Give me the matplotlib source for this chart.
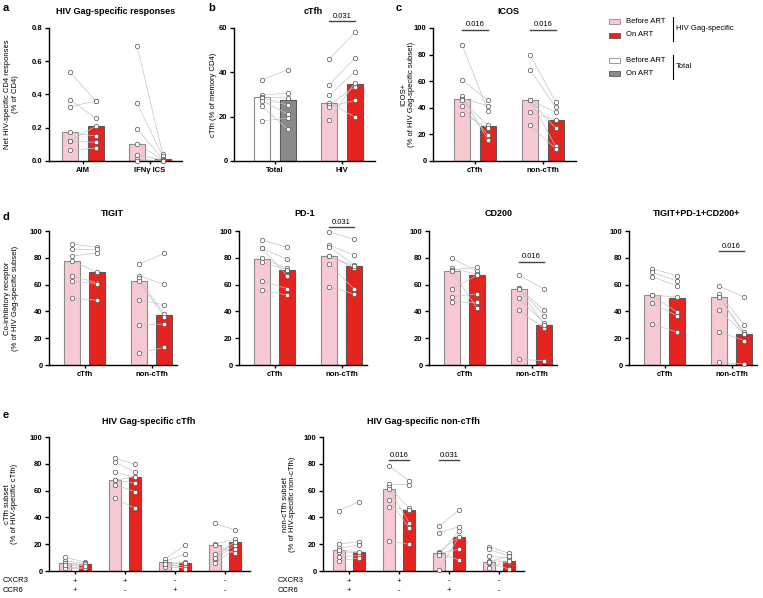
import numpy as np
import matplotlib
matplotlib.use("Agg")
import matplotlib.pyplot as plt
from matplotlib.patches import Rectangle

plt.rcParams["font.family"] = ["Liberation Sans", "DejaVu Sans"]

W, H = 763, 598
PINK = "#f7cad3"
RED = "#e5241f"
GREY = "#8a8a8a"

# ---- data ----
# a: HIV Gag-specific responses (% of CD4)
a_groups = ["AIM", "IFNγ ICS"]
a_before = [[0.533, 0.369, 0.327, 0.172, 0.122, 0.120, 0.064],
            [0.690, 0.347, 0.192, 0.104, 0.038, 0.012, 0.002]]
a_after = [[0.361, 0.257, 0.361, 0.150, 0.209, 0.112, 0.078],
           [0.044, 0.030, 0.012, 0.008, 0.005, 0.000, 0.000]]
a_bar_before = [0.172, 0.104]
a_bar_after = [0.209, 0.010]

# b: cTfh (% of memory CD4)
b_groups = ["Total", "HIV"]
b_before = [[36.6, 29.7, 28.8, 28.5, 27.2, 24.6, 18.1],
            [46.0, 34.5, 29.7, 26.1, 25.2, 24.5, 18.4]]
b_after = [[41.2, 30.6, 28.4, 25.2, 21.2, 14.3, 19.3],
           [58.0, 46.4, 40.3, 19.9, 33.6, 27.3, 35.4]]
b_bar_before = [28.7, 26.0]
b_bar_after = [27.6, 34.9]

# c: ICOS+
c_groups = ["cTfh", "non-cTfh"]
c_before = [[87.5, 61.0, 48.6, 46.9, 45.6, 41.0, 35.6],
            [80.0, 68.7, 46.1, 46.1, 46.1, 36.6, 26.8]]
c_after = [[37.6, 45.6, 16.0, 41.6, 26.8, 19.8, 24.8],
           [44.4, 40.4, 36.6, 11.0, 24.8, 31.1, 9.3]]
c_bar_before = [46.6, 46.1]
c_bar_after = [26.0, 31.0]

# d: co-inhibitory receptors
d_titles = ["TIGIT", "PD-1", "CD200", "TIGIT+PD-1+CD200+"]
d_before = [
    [[90.3, 86.3, 81.3, 77.6, 66.7, 62.9, 50.0], [75.1, 66.7, 64.7, 62.7, 48.3, 29.9, 8.7]],
    [[93.3, 87.0, 87.0, 79.6, 76.6, 62.9, 56.0], [99.3, 89.6, 88.3, 81.3, 81.3, 75.4, 58.5]],
    [[79.6, 72.1, 70.9, 70.1, 56.5, 51.0, 47.3], [67.2, 57.2, 57.2, 49.8, 40.8, 4.2, 57.0]],
    [[71.9, 69.2, 65.9, 52.2, 52.2, 46.0, 30.8], [59.0, 53.2, 51.0, 50.7, 41.3, 24.9, 2.0]],
]
d_after = [
    [[87.8, 86.3, 83.6, 69.2, 61.2, 60.7, 48.3], [83.3, 60.2, 38.0, 36.0, 45.0, 30.6, 13.2]],
    [[87.8, 78.9, 66.7, 72.1, 71.1, 57.0, 52.2], [93.8, 82.0, 74.6, 72.6, 74.1, 56.5, 53.0]],
    [[70.1, 67.7, 72.9, 42.3, 67.2, 53.2, 47.3], [56.5, 40.8, 36.8, 31.1, 27.4, 3.2, 30.1]],
    [[66.7, 62.7, 59.0, 50.7, 39.3, 36.8, 24.4], [50.7, 29.9, 24.4, 22.9, 22.9, 18.2, 0.7]],
]
d_bar_before = [[77.4, 62.7], [79.1, 81.3], [70.1, 57.0], [52.2, 50.7]]
d_bar_after = [[69.2, 37.0], [71.1, 74.1], [67.2, 30.1], [50.2, 22.9]]
d_sig = [None, "0.031", "0.016", "0.016"]
d_sig_y = [None, 102.7, 77.0, 85.0]

# e: CXCR3/CCR6 subsets
e_cxcr3 = ["+", "+", "-", "-"]
e_ccr6 = ["+", "-", "+", "-"]
e_titles = ["HIV Gag-specific cTfh", "HIV Gag-specific non-cTfh"]
e_ylabels = ["cTfh subset\n(% of HIV-specific cTfh)",
             "non-cTfh subset\n(% of HIV-specific non-cTfh)"]
e_before = [
    [[10.2, 7.7, 5.7, 5.7, 3.2, 2.0, 4.5], [84.3, 81.1, 73.9, 67.9, 64.2, 54.2, 67.7],
     [8.7, 7.0, 5.7, 4.5, 3.2, 6.7, 5.0], [35.6, 20.1, 12.4, 8.7, 6.0, 19.2, 10.0]],
    [[45.0, 20.1, 16.9, 14.4, 10.7, 7.5, 15.7], [78.4, 64.9, 62.9, 60.9, 53.0, 48.0, 22.1],
     [33.6, 28.6, 14.4, 13.2, 13.2, 0.7, 12.0], [18.2, 16.2, 11.2, 7.7, 5.7, 2.5, 7.0]],
]
e_after = [
    [[6.7, 5.7, 4.5, 5.0, 3.2, 2.0, 4.0], [79.6, 73.9, 69.9, 65.7, 59.2, 46.8, 70.4],
     [19.4, 12.7, 6.5, 4.5, 3.2, 1.5, 6.2], [30.6, 23.9, 21.6, 19.7, 16.2, 13.2, 21.9]],
    [[51.7, 21.9, 19.4, 13.7, 11.4, 9.7, 14.4], [67.4, 64.2, 46.8, 36.1, 32.3, 45.3, 20.1],
     [45.5, 33.1, 25.6, 16.2, 8.2, 25.6, 30.0], [13.2, 11.2, 9.5, 7.0, 1.5, 7.2, 11.0]],
]
e_bar_before = [[5.7, 67.7, 6.7, 19.2], [15.7, 60.9, 13.2, 7.0]]
e_bar_after = [[5.0, 70.4, 6.2, 21.9], [14.4, 45.3, 25.6, 7.2]]


def px_axes(fig, left, top, right, bottom):
    return fig.add_axes([left / W, 1 - bottom / H, (right - left) / W, (bottom - top) / H])


def ftext(fig, x, y, s, **kw):
    fig.text(x / W, 1 - y / H, s, **kw)


def style(ax, ymax, ystep, fmt="{:.0f}"):
    for s in ("top", "right"):
        ax.spines[s].set_visible(False)
    for s in ("left", "bottom"):
        ax.spines[s].set_linewidth(1.0)
    ax.set_ylim(0, ymax)
    ticks = np.arange(0, ymax + ystep / 2, ystep)
    ax.set_yticks(ticks)
    ax.set_yticklabels([fmt.format(t) for t in ticks], fontweight="bold", fontsize=5.5)
    ax.tick_params(axis="y", length=3, width=1, pad=1.5)
    ax.tick_params(axis="x", length=2, width=1, pad=2.5)


def paired(ax, x, before, after, bar_b, bar_a, off=0.19, width=0.24,
           col_b=PINK, col_a=RED, ec_b="#8c8c8c", ec_a="#5a5a5a"):
    ax.bar(x - off, bar_b, width, color=col_b, edgecolor=ec_b, linewidth=0.8, zorder=1)
    ax.bar(x + off, bar_a, width, color=col_a, edgecolor=ec_a, linewidth=0.8, zorder=1)
    for b, a in zip(before, after):
        ax.plot([x - off, x + off], [b, a], color="#c4c4c4", lw=0.5, zorder=2)
    kw = dict(ls="none", marker="o", ms=3.2, mfc="white", mec="#555555", mew=0.5,
              zorder=3, clip_on=False)
    ax.plot([x - off] * len(before), before, **kw)
    ax.plot([x + off] * len(after), after, **kw)


def sig(ax, x0, x1, y, label):
    ax.plot([x0, x1], [y, y], color="#444444", lw=1.0, clip_on=False)
    ax.annotate(label, ((x0 + x1) / 2, y), xytext=(0, 1), textcoords="offset points",
                ha="center", va="bottom", fontsize=5.5, annotation_clip=False)


fig = plt.figure(figsize=(W / 100, H / 100), dpi=100)

# panel letters
for lab, x, y in [("a", 3, 8), ("b", 208, 8), ("c", 396, 8), ("d", 3, 217), ("e", 3, 415)]:
    ftext(fig, x, y, lab, fontsize=8, fontweight="bold", va="center", ha="left")

# ---- a ----
ax = px_axes(fig, 49, 28, 182, 161)
for i in range(2):
    paired(ax, i, a_before[i], a_after[i], a_bar_before[i], a_bar_after[i])
style(ax, 0.8, 0.2, "{:.1f}")
ax.set_xlim(-0.51, 1.48)
ax.set_xticks(range(2))
ax.set_xticklabels(a_groups, fontweight="bold", fontsize=5.5)
ax.set_ylabel("Net HIV-specific CD4 responses\n(% of CD4)", fontsize=5.5, linespacing=1.1)
ax.yaxis.set_label_coords(-0.226, 0.5)
ftext(fig, 116, 11, "HIV Gag-specific responses", fontsize=6.5, fontweight="bold",
      ha="center", va="center")

# ---- b ----
ax = px_axes(fig, 234, 28, 375, 161)
paired(ax, 0, b_before[0], b_after[0], b_bar_before[0], b_bar_after[0],
       col_b="white", col_a=GREY, ec_b="#8c8c8c", ec_a="#5a5a5a")
paired(ax, 1, b_before[1], b_after[1], b_bar_before[1], b_bar_after[1])
style(ax, 60, 20)
ax.set_xlim(-0.61, 1.49)
ax.set_xticks(range(2))
ax.set_xticklabels(b_groups, fontweight="bold", fontsize=5.5)
ax.set_ylabel("cTfh (% of memory CD4)", fontsize=5.5)
ax.yaxis.set_label_coords(-0.12, 0.5)
sig(ax, 1 - 0.19, 1 + 0.19, 63.2, "0.031")
ftext(fig, 313, 11, "cTfh", fontsize=6.5, fontweight="bold", ha="center", va="center")

# ---- c ----
ax = px_axes(fig, 433, 28, 576, 161)
for i in range(2):
    paired(ax, i, c_before[i], c_after[i], c_bar_before[i], c_bar_after[i])
    sig(ax, i - 0.19, i + 0.19, 98.7, "0.016")
style(ax, 100, 20)
ax.set_xlim(-0.62, 1.49)
ax.set_xticks(range(2))
ax.set_xticklabels(c_groups, fontweight="bold", fontsize=5.5)
ax.set_ylabel("ICOS+\n(% of HIV Gag-specific subset)", fontsize=5.5, linespacing=1.1)
ax.yaxis.set_label_coords(-0.126, 0.5)
ftext(fig, 508, 11, "ICOS", fontsize=6.5, fontweight="bold", ha="center", va="center")

# legend
leg_rows = [(21.5, PINK, "#8c8c8c", "Before ART"), (35, RED, "#5a5a5a", "On ART"),
            (60, "white", "#8c8c8c", "Before ART"), (73.5, GREY, "#5a5a5a", "On ART")]
for y, fc, ec, txt in leg_rows:
    fig.patches.append(Rectangle((609 / W, 1 - (y + 2.5) / H), 11 / W, 5 / H,
                                 facecolor=fc, edgecolor=ec, lw=0.6,
                                 transform=fig.transFigure, figure=fig))
    ftext(fig, 626, y, txt, fontsize=5.5, ha="left", va="center")
for y0, y1, txt in [(17, 41, "HIV Gag-specific"), (55, 79, "Total")]:
    fig.add_artist(plt.Line2D([673 / W, 673 / W], [1 - y0 / H, 1 - y1 / H], color="black",
                              lw=0.8, transform=fig.transFigure))
    ftext(fig, 676, (y0 + y1) / 2, txt, fontsize=5.5, ha="left", va="center")

# ---- d ----
d_lefts = [49, 239, 429, 629]
d_title_x = [112, 305, 499, 697]
for k in range(4):
    ax = px_axes(fig, d_lefts[k], 231, d_lefts[k] + 128, 365)
    for i in range(2):
        paired(ax, i, d_before[k][i], d_after[k][i], d_bar_before[k][i], d_bar_after[k][i])
    style(ax, 100, 20)
    ax.set_xlim(-0.53, 1.38)
    ax.set_xticks(range(2))
    ax.set_xticklabels(c_groups, fontweight="bold", fontsize=5.5)
    if d_sig[k]:
        sig(ax, 1 - 0.19, 1 + 0.19, d_sig_y[k], d_sig[k])
    if k == 0:
        ax.set_ylabel("Co-inhibitory receptor\n(% of HIV Gag-specific subset)",
                      fontsize=5.5, linespacing=1.1)
        ax.yaxis.set_label_coords(-0.238, 0.5)
    ftext(fig, d_title_x[k], 214, d_titles[k], fontsize=6.5, fontweight="bold",
          ha="center", va="center")

# ---- e ----
e_lefts = [49, 323]
e_title_x = [149, 423]
e_label_x = [-0.152, -0.134]
e_marker_x = [3, 278]
for k in range(2):
    ax = px_axes(fig, e_lefts[k], 437, e_lefts[k] + 201, 571)
    for i in range(4):
        paired(ax, i, e_before[k][i], e_after[k][i], e_bar_before[k][i], e_bar_after[k][i],
               off=0.2, width=0.24)
    style(ax, 100, 20)
    ax.set_xlim(-0.52, 3.5)
    ax.set_xticks(range(4))
    ax.set_xticklabels([])
    tr = ax.get_xaxis_transform()
    for i in range(4):
        ax.text(i, -0.075, e_cxcr3[i], transform=tr, ha="center", va="center", fontsize=5.5)
        ax.text(i, -0.149, e_ccr6[i], transform=tr, ha="center", va="center", fontsize=5.5)
    ftext(fig, e_marker_x[k], 581, "CXCR3", fontsize=5.5, ha="left", va="center")
    ftext(fig, e_marker_x[k], 591, "CCR6", fontsize=5.5, ha="left", va="center")
    ax.set_ylabel(e_ylabels[k], fontsize=5.5, linespacing=1.1)
    ax.yaxis.set_label_coords(e_label_x[k], 0.5)
    ftext(fig, e_title_x[k], 421, e_titles[k], fontsize=6.5, fontweight="bold",
          ha="center", va="center")
    if k == 1:
        sig(ax, 1 - 0.2, 1 + 0.2, 82.8, "0.016")
        sig(ax, 2 - 0.2, 2 + 0.2, 82.8, "0.031")

fig.savefig("out.png", dpi=100)
